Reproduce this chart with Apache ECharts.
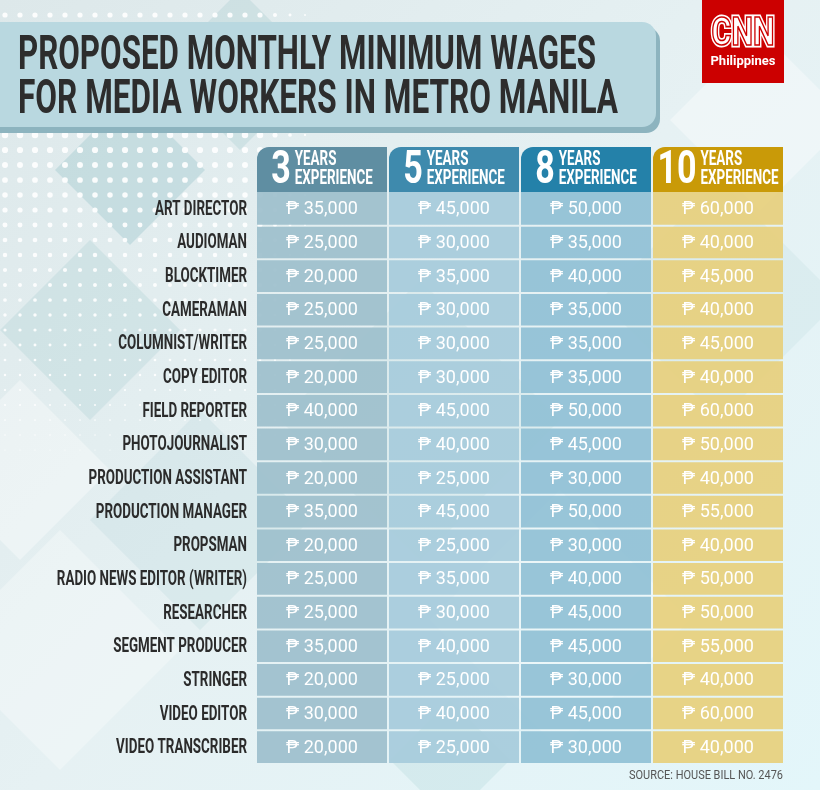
<!DOCTYPE html>
<html><head><meta charset="utf-8">
<script src="https://cdn.jsdelivr.net/npm/echarts@6/dist/echarts.min.js"></script>
<style>html,body{margin:0;padding:0;background:#e4f0f2}#c{width:820px;height:790px}</style>
</head><body><div id="c"></div>
<script>
const jobs = ['ART DIRECTOR','AUDIOMAN','BLOCKTIMER','CAMERAMAN','COLUMNIST/WRITER','COPY EDITOR','FIELD REPORTER','PHOTOJOURNALIST','PRODUCTION ASSISTANT','PRODUCTION MANAGER','PROPSMAN','RADIO NEWS EDITOR (WRITER)','RESEARCHER','SEGMENT PRODUCER','STRINGER','VIDEO EDITOR','VIDEO TRANSCRIBER'];
const yearsLabels = ['3','5','8','10'];
const wages3  = [35000,25000,20000,25000,25000,20000,40000,30000,20000,35000,20000,25000,25000,35000,20000,30000,20000];
const wages5  = [45000,30000,35000,30000,30000,30000,45000,40000,25000,45000,25000,35000,30000,40000,25000,40000,25000];
const wages8  = [50000,35000,40000,35000,35000,35000,50000,45000,30000,50000,30000,40000,45000,45000,30000,45000,30000];
const wages10 = [60000,40000,45000,40000,45000,40000,60000,50000,40000,55000,40000,50000,50000,55000,40000,60000,40000];
const titleLines = ['PROPOSED MONTHLY MINIMUM WAGES','FOR MEDIA WORKERS IN METRO MANILA'];
const sourceText = 'SOURCE: HOUSE BILL NO. 2476';

const headerColors = ['#5f8ea2','#3e8aad','#2481a9','#c99a08'];
const cellColors = ['#9dbfcc','#a6cbdb','#90c0d5','#e7cf7c'];
const FONT = 'Roboto, "Noto Sans", sans-serif';

const mctx = document.createElement('canvas').getContext('2d');
function tw(t, f){ mctx.font = f; return mctx.measureText(t).width; }
function fmt(v){ return v.toString().replace(/\B(?=(\d{3})+(?!\d))/g, ','); }

// background canvas
const bg = document.createElement('canvas'); bg.width = 820; bg.height = 790;
(function(){
  const g = bg.getContext('2d');
  const grd = g.createLinearGradient(0,0,820,790);
  grd.addColorStop(0,'#dde8ea'); grd.addColorStop(0.5,'#e6f1f3'); grd.addColorStop(1,'#e3f6fa');
  g.fillStyle = grd; g.fillRect(0,0,820,790);
  function dia(cx,cy,r,col){ g.fillStyle=col; g.beginPath(); g.moveTo(cx,cy-r); g.lineTo(cx+r,cy); g.lineTo(cx,cy+r); g.lineTo(cx-r,cy); g.closePath(); g.fill(); }
  dia(130,170,75,'rgba(150,195,200,0.35)');
  dia(240,70,80,'rgba(150,195,200,0.25)');
  dia(90,330,90,'rgba(150,195,200,0.22)');
  dia(20,470,90,'rgba(255,255,255,0.35)');
  dia(200,520,110,'rgba(150,195,200,0.15)');
  dia(60,650,120,'rgba(255,255,255,0.3)');
  dia(420,420,140,'rgba(150,195,200,0.12)');
  dia(560,620,130,'rgba(255,255,255,0.25)');
  dia(720,300,120,'rgba(150,195,200,0.12)');
  dia(760,120,90,'rgba(255,255,255,0.35)');
  dia(450,760,60,'rgba(150,200,205,0.2)');
  g.fillStyle = 'rgba(255,255,255,0.9)';
  for (let y = 15; y < 530; y += 15) {
    for (let x = 5; x < 335; x += 15) {
      let r;
      if (y < 25) r = 2.6; else if (y < 135) continue;
      else r = Math.max(0, 3.2 - (y - 140) / 120);
      const fadeX = x > 260 ? Math.max(0, 1 - (x - 260) / 70) : 1;
      r *= fadeX;
      if (r < 0.5) continue;
      g.beginPath(); g.arc(x, y, r, 0, Math.PI * 2); g.fill();
    }
  }
})();

const allWages = [wages3, wages5, wages8, wages10];
const cellData = [];
allWages.forEach((arr, c) => arr.forEach((v, r) => cellData.push([c, r, v])));

const labelFont = 'bold 20px ' + FONT;
const labelScale = 92 / tw('ART DIRECTOR', labelFont);
const hNumFont = 'bold 46px ' + FONT;
const hTxtFont = 'bold 20px ' + FONT;
const hTxtScale = 78 / tw('EXPERIENCE', hTxtFont);
const hNumScale = 0.74;
const titleFont = 'bold 48px ' + FONT;
const tScale1 = 578 / tw(titleLines[0], titleFont);
const tScale2 = 600 / tw(titleLines[1], titleFont);
const srcFont = '12px ' + FONT;
const srcScale = 154 / tw(sourceText, srcFont);
const cnnFont = 'bold 38px ' + FONT;

const chart = echarts.init(document.getElementById('c'));
chart.setOption({
  animation: false,
  backgroundColor: 'transparent',
  graphic: [
    { type: 'image', z: -10, left: 0, top: 0, style: { image: bg, width: 820, height: 790 } },
    { type: 'rect', shape: { x: -20, y: 27, width: 680, height: 106, r: 14 }, style: { fill: '#8db4bf' } },
    { type: 'rect', shape: { x: -20, y: 22, width: 676, height: 105, r: 14 }, style: { fill: '#b9d8e0' } },
    { type: 'text', x: 18, y: 57, scaleX: tScale1, style: { text: titleLines[0], font: titleFont, fill: '#2d2d2d', verticalAlign: 'middle' } },
    { type: 'text', x: 18, y: 101, scaleX: tScale2, style: { text: titleLines[1], font: titleFont, fill: '#2d2d2d', verticalAlign: 'middle' } },
    { type: 'rect', shape: { x: 702, y: 0, width: 82, height: 83 }, style: { fill: '#cc0000' } },
    { type: 'text', x: 743, y: 35, scaleX: 0.8, style: { text: 'CNN', font: cnnFont, fill: '#ffffff', stroke: '#ffffff', lineWidth: 5, align: 'center', verticalAlign: 'middle' } },
    { type: 'text', x: 743, y: 35, scaleX: 0.8, style: { text: 'CNN', font: cnnFont, fill: 'none', stroke: '#cc0000', lineWidth: 1.6, align: 'center', verticalAlign: 'middle' } },
    { type: 'text', x: 743, y: 62, style: { text: 'Philippines', font: 'bold 13px ' + FONT, fill: '#ffffff', align: 'center', verticalAlign: 'middle' } },
    { type: 'text', x: 783, y: 776, scaleX: srcScale, style: { text: sourceText, font: srcFont, fill: '#555555', align: 'right', verticalAlign: 'middle' } }
  ],
  grid: { left: 256, right: 36, top: 192, bottom: 26 },
  xAxis: { type: 'category', data: yearsLabels, show: false },
  yAxis: { type: 'category', data: jobs, inverse: true, show: false },
  series: [
    {
      type: 'custom', name: 'wages', data: cellData,
      renderItem: function (params, api) {
        const col = api.value(0), row = api.value(1), val = api.value(2);
        const c = api.coord([col, row]);
        const s = api.size([1, 1]);
        const x = c[0] - s[0] / 2 + 1, y = c[1] - s[1] / 2 + (row === 0 ? 0 : 1);
        const h = s[1] - (row === 0 ? 1 : 2);
        return { type: 'group', children: [
          { type: 'rect', shape: { x: x, y: y, width: s[0] - 2, height: h }, style: { fill: cellColors[col], opacity: 0.92 } },
          { type: 'text', x: c[0], y: c[1] + 1, style: { text: '₱ ' + fmt(val), font: '18px ' + FONT, fill: '#ffffff', align: 'center', verticalAlign: 'middle' } }
        ] };
      }
    },
    {
      type: 'custom', name: 'labels', data: jobs.map((j, i) => [0, i]),
      renderItem: function (params, api) {
        const row = api.value(1);
        const c = api.coord([0, row]);
        return { type: 'text', x: params.coordSys.x - 9, y: c[1] + 1, scaleX: labelScale,
          style: { text: jobs[row], font: labelFont, fill: '#2b2b2b', align: 'right', verticalAlign: 'middle' } };
      }
    },
    {
      type: 'custom', name: 'headers', data: yearsLabels.map((y, i) => [i, 0]),
      renderItem: function (params, api) {
        const col = api.value(0);
        const c = api.coord([col, 0]);
        const s = api.size([1, 1]);
        const top = params.coordSys.y - 45;
        const numW = tw(yearsLabels[col], hNumFont) * hNumScale;
        const txtW = tw('EXPERIENCE', hTxtFont) * hTxtScale;
        const gap = 4;
        const start = c[0] - (numW + gap + txtW) / 2;
        return { type: 'group', children: [
          { type: 'rect', shape: { x: c[0] - s[0] / 2 + 1, y: top, width: s[0] - 2, height: 45, r: [12, 0, 0, 0] }, style: { fill: headerColors[col] } },
          { type: 'text', x: start, y: top + 24, scaleX: hNumScale, style: { text: yearsLabels[col], font: hNumFont, fill: '#ffffff', verticalAlign: 'middle' } },
          { type: 'text', x: start + numW + gap, y: top + 13, scaleX: hTxtScale, style: { text: 'YEARS', font: hTxtFont, fill: '#ffffff', verticalAlign: 'middle' } },
          { type: 'text', x: start + numW + gap, y: top + 32, scaleX: hTxtScale, style: { text: 'EXPERIENCE', font: hTxtFont, fill: '#ffffff', verticalAlign: 'middle' } }
        ] };
      }
    }
  ]
});
</script></body></html>
